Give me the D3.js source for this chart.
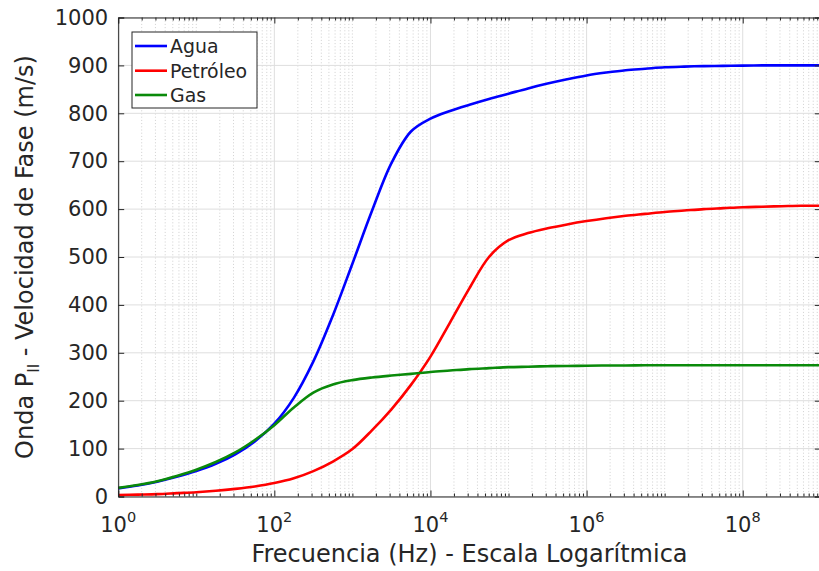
<!DOCTYPE html>
<html>
<head>
<meta charset="utf-8">
<script src="https://cdn.jsdelivr.net/npm/d3@7"></script>
<style>
  html, body { margin: 0; padding: 0; background: #ffffff; }
  svg { display: block; font-family: "DejaVu Sans", sans-serif; }
</style>
</head>
<body>
<svg id="chart" width="819" height="571"></svg>
<script>
// Sample frequencies (Hz), quarter-decade steps from 1 Hz to 1 GHz
const frequencies = [
  1e0, 1.778e0, 3.162e0, 5.623e0,
  1e1, 1.778e1, 3.162e1, 5.623e1,
  1e2, 1.778e2, 3.162e2, 5.623e2,
  1e3, 1.778e3, 3.162e3, 5.623e3,
  1e4, 1.778e4, 3.162e4, 5.623e4,
  1e5, 1.778e5, 3.162e5, 5.623e5,
  1e6, 1.778e6, 3.162e6, 5.623e6,
  1e7, 1.778e7, 3.162e7, 5.623e7,
  1e8, 1.778e8, 3.162e8, 5.623e8,
  1e9
];

// Phase velocity of the P_II wave (m/s) for each saturating fluid
const agua = [
  17, 23, 31, 41,
  53, 68, 88, 115,
  152, 206, 282, 378,
  486, 596, 696, 762,
  789, 805, 818, 830,
  841, 852, 862, 871,
  879, 885, 890, 893,
  896, 897.5, 898.5, 899,
  899.5, 900, 900, 900,
  900
];
const petroleo = [
  3, 4, 5, 7,
  9, 12, 16, 21,
  28, 38, 53, 73,
  99, 138, 182, 233,
  292, 363, 435, 500,
  535, 550, 560, 568,
  575, 581, 586, 590,
  594, 597, 600, 602,
  604, 605, 606, 607,
  607
];
const gas = [
  18, 24, 32, 43,
  56, 72, 92, 118,
  149, 186, 217, 234,
  243, 248.5, 252.5, 256,
  260, 263, 266, 268,
  270, 271, 272, 272.5,
  273, 273.5, 273.5, 274,
  274, 274, 274, 274,
  274, 274, 274, 274,
  274
];

const seriesNames = ["Agua", "Petróleo", "Gas"];
const seriesValues = [agua, petroleo, gas];
const seriesColors = ["#0000ff", "#ff0000", "#0a8a0a"];

const yTicks = [0, 100, 200, 300, 400, 500, 600, 700, 800, 900, 1000];
const xMajorExponents = [0, 2, 4, 6, 8];

const xLabel = "Frecuencia (Hz) - Escala Logarítmica";

// ---- layout ----
const svg = d3.select("#chart");
const plotLeft = 118.2, plotRight = 820.8, plotTop = 17.5, plotBottom = 496.5;
const axisColor = "#262626";
const textColor = "#262626";

const x = d3.scaleLog().domain([1, 1e9]).range([plotLeft, plotRight]);
const y = d3.scaleLinear().domain([0, 1000]).range([plotBottom, plotTop]);

const xMajor = xMajorExponents.map(e => Math.pow(10, e));
const xMinor = [];
for (let e = 0; e < 9; e++) {
  for (let m = 1; m <= 9; m++) {
    const v = m * Math.pow(10, e);
    if (!xMajor.includes(v)) xMinor.push(v);
  }
}

// ---- grid ----
const grid = svg.append("g");
grid.selectAll(".minor-grid")
  .data(xMinor)
  .join("line")
  .attr("x1", d => x(d)).attr("x2", d => x(d))
  .attr("y1", plotTop).attr("y2", plotBottom)
  .attr("stroke", "#c4c4c4")
  .attr("stroke-width", 0.8)
  .attr("stroke-dasharray", "1,2.2");
grid.selectAll(".major-vgrid")
  .data(xMajor)
  .join("line")
  .attr("x1", d => x(d)).attr("x2", d => x(d))
  .attr("y1", plotTop).attr("y2", plotBottom)
  .attr("stroke", "#dedede")
  .attr("stroke-width", 1);
grid.selectAll(".major-hgrid")
  .data(yTicks)
  .join("line")
  .attr("x1", plotLeft).attr("x2", plotRight)
  .attr("y1", d => y(d)).attr("y2", d => y(d))
  .attr("stroke", "#dedede")
  .attr("stroke-width", 1);

// ---- curves ----
const line = d3.line()
  .x(d => x(d[0]))
  .y(d => y(d[1]))
  .curve(d3.curveCatmullRom.alpha(0.5));

const plot = svg.append("g");
seriesValues.forEach((vals, i) => {
  plot.append("path")
    .datum(frequencies.map((f, k) => [f, vals[k]]))
    .attr("fill", "none")
    .attr("stroke", seriesColors[i])
    .attr("stroke-width", 2.6)
    .attr("stroke-linejoin", "round")
    .attr("d", line);
});

// ---- axes ----
function styleAxis(g) {
  g.select(".domain").attr("stroke", axisColor).attr("stroke-width", 1);
  g.selectAll(".tick line").attr("stroke", axisColor).attr("stroke-width", 1);
}

// bottom: major + minor ticks pointing inward
const gBottom = svg.append("g").attr("transform", `translate(0,${plotBottom})`)
  .call(d3.axisBottom(x).tickValues(xMajor).tickSize(-6).tickPadding(0).tickFormat(""));
styleAxis(gBottom);
const gBottomMinor = svg.append("g").attr("transform", `translate(0,${plotBottom})`)
  .call(d3.axisBottom(x).tickValues(xMinor).tickSize(-3).tickFormat(""));
styleAxis(gBottomMinor);
gBottomMinor.select(".domain").remove();

// top: major + minor ticks pointing inward
const gTop = svg.append("g").attr("transform", `translate(0,${plotTop})`)
  .call(d3.axisTop(x).tickValues(xMajor).tickSize(-6).tickFormat(""));
styleAxis(gTop);
const gTopMinor = svg.append("g").attr("transform", `translate(0,${plotTop})`)
  .call(d3.axisTop(x).tickValues(xMinor).tickSize(-3).tickFormat(""));
styleAxis(gTopMinor);
gTopMinor.select(".domain").remove();

// x tick labels as powers of ten
const xLabels = svg.append("g");
xMajorExponents.forEach(e => {
  const t = xLabels.append("text")
    .attr("x", x(Math.pow(10, e)))
    .attr("y", 531.7)
    .attr("text-anchor", "middle")
    .attr("fill", textColor)
    .attr("font-size", 21);
  t.append("tspan").text("10");
  t.append("tspan").attr("font-size", 14.5).attr("dy", -9.7).text(String(e));
});

// left / right y axes
const gLeft = svg.append("g").attr("transform", `translate(${plotLeft},0)`)
  .call(d3.axisLeft(y).tickValues(yTicks).tickSize(-6).tickPadding(10).tickFormat(d3.format("d")));
styleAxis(gLeft);
gLeft.selectAll(".tick text")
  .attr("font-size", 21)
  .attr("font-family", "DejaVu Sans, sans-serif")
  .attr("fill", textColor);

const gRight = svg.append("g").attr("transform", `translate(${plotRight},0)`)
  .call(d3.axisRight(y).tickValues(yTicks).tickSize(-6).tickFormat(""));
styleAxis(gRight);

// ---- axis titles ----
svg.append("text")
  .attr("x", (plotLeft + plotRight) / 2)
  .attr("y", 561.7)
  .attr("text-anchor", "middle")
  .attr("fill", textColor)
  .attr("font-size", 24)
  .text(xLabel);

const yTitle = svg.append("text")
  .attr("transform", `translate(33,${(plotTop + plotBottom) / 2}) rotate(-90)`)
  .attr("text-anchor", "middle")
  .attr("fill", textColor)
  .attr("font-size", 24);
yTitle.append("tspan").text("Onda P");
yTitle.append("tspan").attr("font-size", 15).attr("dy", 6).text("II");
yTitle.append("tspan").attr("dy", -6).text(" - Velocidad de Fase (m/s)");

// ---- legend ----
const legend = svg.append("g");
legend.append("rect")
  .attr("x", 132).attr("y", 32)
  .attr("width", 125).attr("height", 76)
  .attr("fill", "#ffffff")
  .attr("stroke", axisColor)
  .attr("stroke-width", 1);
const rowY = [46, 70.7, 95];
seriesNames.forEach((name, i) => {
  legend.append("line")
    .attr("x1", 135).attr("x2", 167)
    .attr("y1", rowY[i]).attr("y2", rowY[i])
    .attr("stroke", seriesColors[i])
    .attr("stroke-width", 2.6);
  legend.append("text")
    .attr("x", 170)
    .attr("y", rowY[i])
    .attr("dy", "0.36em")
    .attr("fill", textColor)
    .attr("font-size", 18.9)
    .text(name);
});
</script>
</body>
</html>
